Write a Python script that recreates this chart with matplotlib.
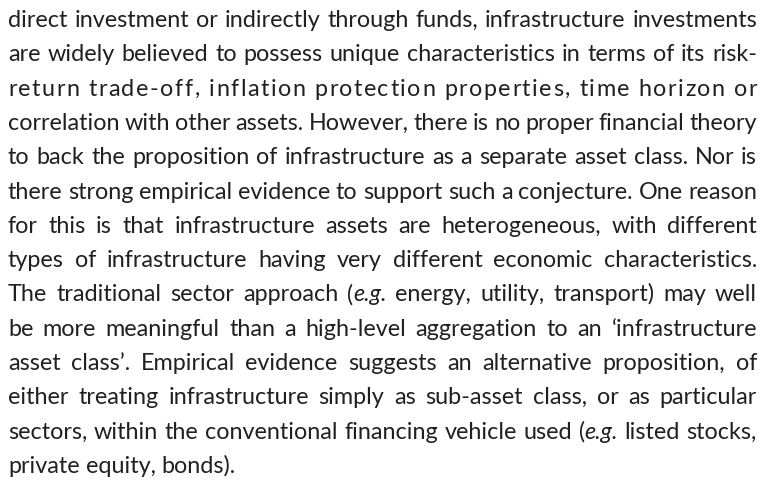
import matplotlib.pyplot as plt
from matplotlib.transforms import IdentityTransform

# paragraph, one entry per printed line; *...* marks italic text
lines = [
    "direct investment or indirectly through funds, infrastructure investments",
    "are widely believed to possess unique characteristics in terms of its risk-",
    "return trade-off, inflation protection properties, time horizon or",
    "correlation with other assets. However, there is no proper financial theory",
    "to back the proposition of infrastructure as a separate asset class. Nor is",
    "there strong empirical evidence to support such a conjecture. One reason",
    "for this is that infrastructure assets are heterogeneous, with different",
    "types of infrastructure having very different economic characteristics.",
    "The traditional sector approach (*e.g.* energy, utility, transport) may well",
    "be more meaningful than a high-level aggregation to an \u2018infrastructure",
    "asset class\u2019. Empirical evidence suggests an alternative proposition, of",
    "either treating infrastructure simply as sub-asset class, or as particular",
    "sectors, within the conventional financing vehicle used (*e.g.* listed stocks,",
    "private equity, bonds).",
]
letterspaced = [2]  # this line is stretched by letter spacing in the print

W, H = 761, 490
LEFT, RIGHT = 8, 757
TOP_BASE, STEP = 27, 34.3
FONT = "Lato"
COLOR = "#231f20"

fig = plt.figure(figsize=(W / 100, H / 100), dpi=100)
renderer = fig.canvas.get_renderer()


def segments(word):
    parts = word.split("*")
    return [(p, i % 2 == 1) for i, p in enumerate(parts) if p]


def width(txt, italic, size):
    t = fig.text(0, 0, txt, fontsize=size, family=FONT,
                 style="italic" if italic else "normal")
    w = t.get_window_extent(renderer).width
    t.remove()
    return w


def tightest(size):
    sp = width("a a", False, size) - width("aa", False, size)
    worst = 10.0
    for line in lines[:-1]:
        words = [segments(w) for w in line.split(" ")]
        total = sum(width(s, it, size) for segs in words for s, it in segs)
        worst = min(worst, (RIGHT - LEFT - total) / (len(words) - 1) / sp)
    return worst


# largest size that keeps word gaps at least ~0.75 of a normal space
SIZE = 14.0
while tightest(SIZE + 0.2) >= 0.75:
    SIZE += 0.2

space = width("a a", False, SIZE) - width("aa", False, SIZE)


def put(x, y, s, it):
    fig.text(x, y, s, fontsize=SIZE, family=FONT, color=COLOR,
             style="italic" if it else "normal", va="baseline",
             transform=IdentityTransform())


for i, line in enumerate(lines):
    y = H - (TOP_BASE + STEP * i)
    words = [segments(w) for w in line.split(" ")]
    if i in letterspaced:
        chars = [(c, it) for segs in words for s, it in segs for c in s]
        nat = sum(width(c, it, SIZE) for c, it in chars) + space * (len(words) - 1)
        extra = (RIGHT - LEFT - nat) / (len(chars) + len(words) - 2)
        x = LEFT
        for k, segs in enumerate(words):
            for s, it in segs:
                for c in s:
                    put(x, y, c, it)
                    x += width(c, it, SIZE) + extra
            x += space + extra
        continue
    widths = [[width(s, it, SIZE) for s, it in segs] for segs in words]
    total = sum(sum(ws) for ws in widths)
    gap = space if i == len(lines) - 1 else (RIGHT - LEFT - total) / (len(words) - 1)
    x = LEFT
    for segs, ws in zip(words, widths):
        for (s, it), w in zip(segs, ws):
            put(x, y, s, it)
            x += w
        x += gap

fig.savefig("out.png", dpi=100)
